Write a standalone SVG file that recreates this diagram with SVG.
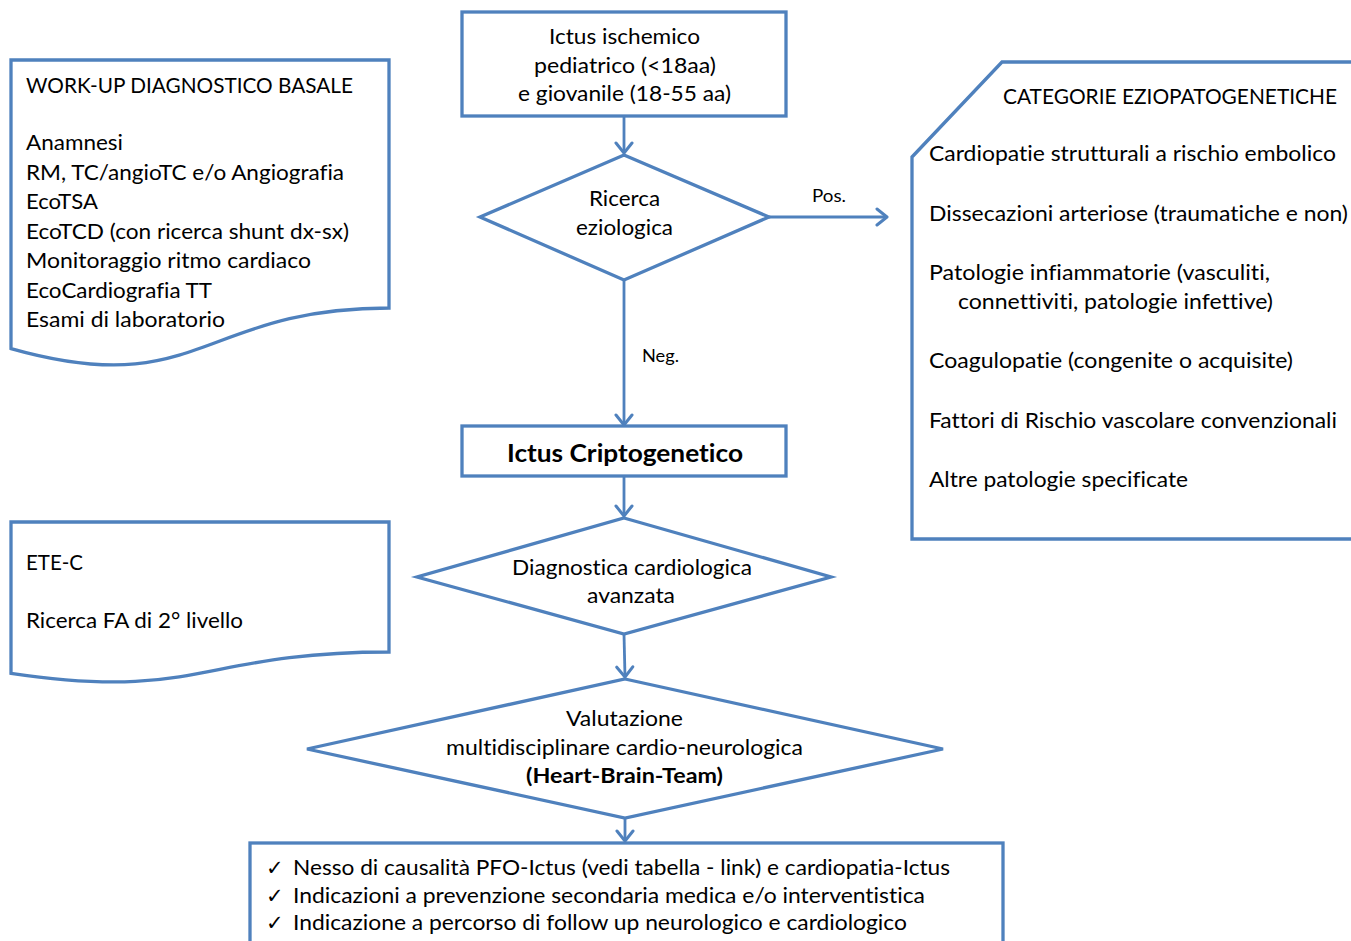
<svg xmlns="http://www.w3.org/2000/svg" width="1351" height="941" viewBox="0 0 1351 941">
<style>
.shape{fill:#ffffff;stroke:#4F81BD;stroke-width:3.3;stroke-linejoin:miter}
.conn{fill:none;stroke:#4F81BD;stroke-width:2.8}
.t{font-family:Lato,"Open Sans","Liberation Sans",sans-serif;font-size:21px;fill:#000;font-variant-ligatures:none;font-feature-settings:"liga" 0,"clig" 0}
.c{text-anchor:middle}
.b{font-weight:bold}
.s{font-size:17px}
.chk{font-family:"DejaVu Sans",sans-serif;font-size:21px;fill:#000}
</style>
<defs>
<marker id="arr" markerUnits="userSpaceOnUse" markerWidth="20" markerHeight="20" viewBox="0 0 20 20" refX="12" refY="10" orient="auto">
<path d="M2,2 L12,10 L2,18" fill="none" stroke="#4F81BD" stroke-width="3" stroke-linecap="round" stroke-linejoin="round"/>
</marker>
</defs>
<rect width="1351" height="941" fill="#ffffff"/>

<g id="connectors">
<line class="conn" x1="624" y1="116" x2="624" y2="153" marker-end="url(#arr)"/>
<line class="conn" x1="769" y1="217" x2="887" y2="217" marker-end="url(#arr)"/>
<text class="t s" x="812" y="202" textLength="34" lengthAdjust="spacingAndGlyphs">Pos.</text>
<line class="conn" x1="624" y1="280" x2="624" y2="425" marker-end="url(#arr)"/>
<text class="t s" x="642" y="362" textLength="37" lengthAdjust="spacingAndGlyphs">Neg.</text>
<line class="conn" x1="624" y1="476" x2="624" y2="516" marker-end="url(#arr)"/>
<line class="conn" x1="624" y1="634" x2="625" y2="677" marker-end="url(#arr)"/>
<line class="conn" x1="625" y1="818" x2="625" y2="841" marker-end="url(#arr)"/>
</g>

<g id="workup">
<path class="shape" d="M11,60 H389 V308 C200,308 200,402 11,348.6 Z"/>
<text class="t" x="26" y="93" textLength="327" lengthAdjust="spacingAndGlyphs">WORK-UP DIAGNOSTICO BASALE</text>
<text class="t" x="26" y="150" textLength="97" lengthAdjust="spacingAndGlyphs">Anamnesi</text>
<text class="t" x="26" y="179.5" textLength="318" lengthAdjust="spacingAndGlyphs">RM, TC/angioTC e/o Angiografia</text>
<text class="t" x="26" y="209" textLength="72" lengthAdjust="spacingAndGlyphs">EcoTSA</text>
<text class="t" x="26" y="238.5" textLength="323" lengthAdjust="spacingAndGlyphs">EcoTCD (con ricerca shunt dx-sx)</text>
<text class="t" x="26" y="268" textLength="285" lengthAdjust="spacingAndGlyphs">Monitoraggio ritmo cardiaco</text>
<text class="t" x="26" y="297.5" textLength="186" lengthAdjust="spacingAndGlyphs">EcoCardiografia TT</text>
<text class="t" x="26" y="327" textLength="199" lengthAdjust="spacingAndGlyphs">Esami di laboratorio</text>
</g>

<g id="start">
<rect class="shape" x="462" y="12" width="324" height="104"/>
<text class="t c" x="624.5" y="44" textLength="151" lengthAdjust="spacingAndGlyphs">Ictus ischemico</text>
<text class="t c" x="625" y="73" textLength="182" lengthAdjust="spacingAndGlyphs">pediatrico (&lt;18aa)</text>
<text class="t c" x="624.5" y="101" textLength="213" lengthAdjust="spacingAndGlyphs">e giovanile (18-55 aa)</text>
</g>

<g id="ricerca">
<polygon class="shape" points="624,155 769,217 624,280 480,217"/>
<text class="t c" x="624.5" y="206" textLength="71" lengthAdjust="spacingAndGlyphs">Ricerca</text>
<text class="t c" x="624.5" y="235" textLength="97" lengthAdjust="spacingAndGlyphs">eziologica</text>
</g>

<g id="categorie">
<polygon class="shape" points="912,157 1002,62 1356,62 1356,539 912,539"/>
<text class="t" x="1003" y="104" textLength="334" lengthAdjust="spacingAndGlyphs">CATEGORIE EZIOPATOGENETICHE</text>
<text class="t" x="929" y="161" textLength="407" lengthAdjust="spacingAndGlyphs">Cardiopatie strutturali a rischio embolico</text>
<text class="t" x="929" y="221" textLength="419" lengthAdjust="spacingAndGlyphs">Dissecazioni arteriose (traumatiche e non)</text>
<text class="t" x="929" y="280" textLength="341" lengthAdjust="spacingAndGlyphs">Patologie infiammatorie (vasculiti,</text>
<text class="t" x="958" y="309" textLength="315" lengthAdjust="spacingAndGlyphs">connettiviti, patologie infettive)</text>
<text class="t" x="929" y="368" textLength="364" lengthAdjust="spacingAndGlyphs">Coagulopatie (congenite o acquisite)</text>
<text class="t" x="929" y="428" textLength="408" lengthAdjust="spacingAndGlyphs">Fattori di Rischio vascolare convenzionali</text>
<text class="t" x="929" y="487" textLength="259" lengthAdjust="spacingAndGlyphs">Altre patologie specificate</text>
</g>

<g id="criptogenetico">
<rect class="shape" x="462" y="426" width="324" height="50"/>
<text class="t c b" x="625" y="462" style="font-size:25px" textLength="236" lengthAdjust="spacingAndGlyphs">Ictus Criptogenetico</text>
</g>

<g id="ete">
<path class="shape" d="M11,522 H389 V652 C200,652 200,701.4 11,673.3 Z"/>
<text class="t" x="26" y="570" textLength="57" lengthAdjust="spacingAndGlyphs">ETE-C</text>
<text class="t" x="26" y="628" textLength="217" lengthAdjust="spacingAndGlyphs">Ricerca FA di 2° livello</text>
</g>

<g id="diagnostica">
<polygon class="shape" points="624,518 831,577 624,634 417,577"/>
<text class="t c" x="632" y="575" textLength="240" lengthAdjust="spacingAndGlyphs">Diagnostica cardiologica</text>
<text class="t c" x="631" y="603" textLength="88" lengthAdjust="spacingAndGlyphs">avanzata</text>
</g>

<g id="valutazione">
<polygon class="shape" points="625,679 943,749 625,818 307,749"/>
<text class="t c" x="624.5" y="726" textLength="117" lengthAdjust="spacingAndGlyphs">Valutazione</text>
<text class="t c" x="624.5" y="755" textLength="357" lengthAdjust="spacingAndGlyphs">multidisciplinare cardio-neurologica</text>
<text class="t c b" x="624.5" y="783" textLength="197" lengthAdjust="spacingAndGlyphs">(Heart-Brain-Team)</text>
</g>

<g id="esito">
<rect class="shape" x="250" y="843" width="753" height="110"/>
<text class="chk" x="266" y="875">✓</text>
<text class="chk" x="266" y="903">✓</text>
<text class="chk" x="266" y="930">✓</text>
<text class="t" x="293" y="875" textLength="657" lengthAdjust="spacingAndGlyphs">Nesso di causalità PFO-Ictus (vedi tabella - link) e cardiopatia-Ictus</text>
<text class="t" x="293" y="903" textLength="632" lengthAdjust="spacingAndGlyphs">Indicazioni a prevenzione secondaria medica e/o interventistica</text>
<text class="t" x="293" y="930" textLength="614" lengthAdjust="spacingAndGlyphs">Indicazione a percorso di follow up neurologico e cardiologico</text>
</g>
</svg>
